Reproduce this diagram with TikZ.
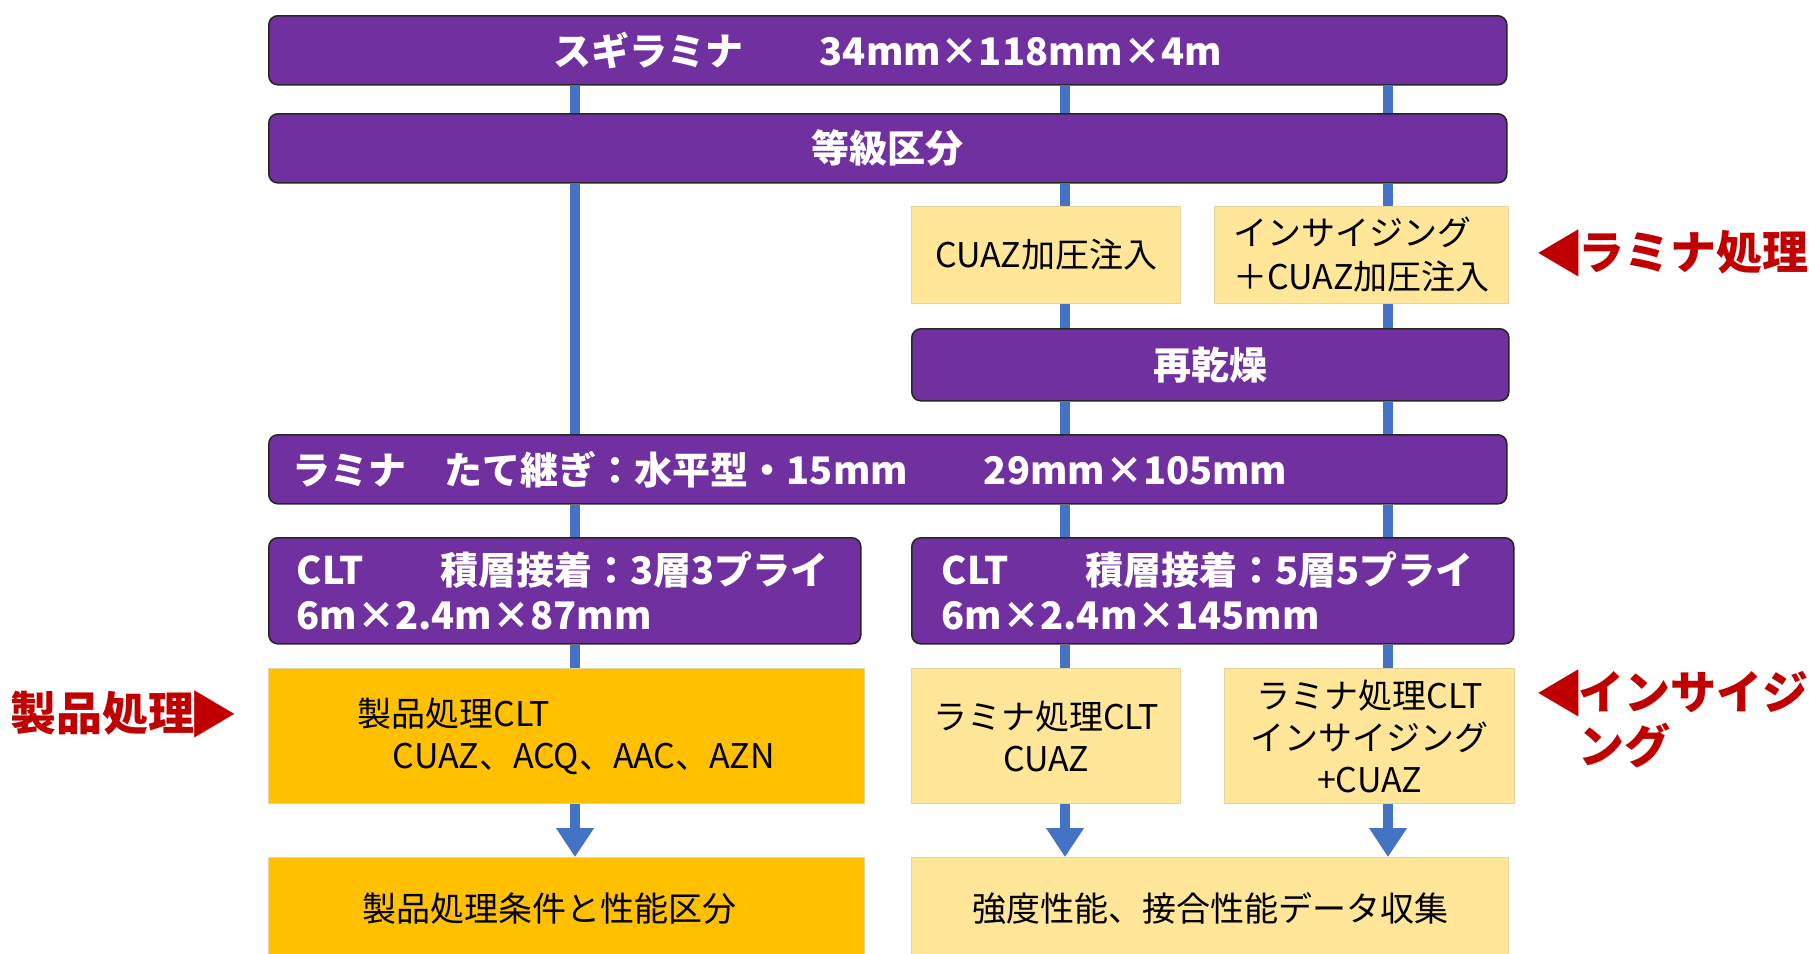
\documentclass[tikz,border=0pt]{standalone}
\usepackage{fontspec}
\usepackage{graphicx}
\setmainfont{Noto Sans CJK JP}
\newfontfamily\symfont{DejaVu Sans}
\usetikzlibrary{arrows.meta,backgrounds}
\definecolor{purp}{HTML}{7030A0}
\definecolor{lyel}{HTML}{FFE699}
\definecolor{oran}{HTML}{FFC000}
\definecolor{lblue}{HTML}{4472C4}
\definecolor{dred}{HTML}{C00000}
\definecolor{yedge}{HTML}{E3D3A0}
\newcommand{\tri}[1]{\scalebox{0.85}[1]{\symfont\fontsize{62}{54}\selectfont #1}}
\begin{document}
\begin{tikzpicture}[x=1pt,y=-1pt,
 pbox/.style={rectangle, rounded corners=9pt, fill=purp, draw=black!85, line width=1.6pt, text=white, inner sep=0pt, anchor=north west, font=\bfseries\fontsize{38}{45}\selectfont},
 ybox/.style={rectangle, fill=lyel, draw=yedge, line width=1pt, text=black, inner sep=0pt, anchor=north west, font=\fontsize{34}{42}\selectfont, align=center},
 obox/.style={ybox, fill=oran},
 flow/.style={draw=lblue, line width=10pt},
 flowarrow/.style={flow, -{Triangle[length=29pt,width=36pt]}},
 redlabel/.style={text=dred, font=\bfseries\fontsize{46}{54}\selectfont, inner sep=0pt, anchor=west, align=left},
]
\useasboundingbox (0,0) rectangle (1809,953);
\coordinate (cA) at (575,0);
\coordinate (cB) at (1065,0);
\coordinate (cC) at (1388,0);

\node[pbox, minimum width=1238pt, minimum height=69pt] (b1) at (268,15) {スギラミナ　　34mm×118mm×4m};
\node[pbox, minimum width=1238pt, minimum height=69pt] (b2) at (268,113) {等級区分};
\node[ybox, minimum width=269pt, minimum height=97pt] (t1) at (911,206) {CUAZ加圧注入};
\node[ybox, minimum width=294pt, minimum height=97pt, text width=256pt, align=left, font=\fontsize{34}{44}\selectfont] (t2) at (1214,206) {インサイジング\\＋CUAZ加圧注入};
\node[pbox, minimum width=597pt, minimum height=72pt] (dry) at (911,328) {再乾燥};
\node[pbox, minimum width=1238pt, minimum height=69pt, text width=1190pt, align=left] (lam) at (268,434) {ラミナ　たて継ぎ：水平型・15mm　　29mm×105mm};
\node[pbox, minimum width=592pt, minimum height=106pt, text width=536pt, align=left] (c3) at (268,537) {CLT　　積層接着：3層3プライ\\6m×2.4m×87mm};
\node[pbox, minimum width=602pt, minimum height=106pt, text width=542pt, align=left] (c5) at (911,537) {CLT　　積層接着：5層5プライ\\6m×2.4m×145mm};
\node[obox, minimum width=596pt, minimum height=135pt, align=left] (p1) at (268,668) {製品処理CLT\\\hspace*{35pt}CUAZ、ACQ、AAC、AZN};
\node[ybox, minimum width=269pt, minimum height=135pt] (t3) at (911,668) {ラミナ処理CLT\\CUAZ};
\node[ybox, minimum width=290pt, minimum height=135pt] (t4) at (1224,668) {ラミナ処理CLT\\インサイジング\\+CUAZ};
\node[obox, minimum width=596pt, minimum height=102pt, text width=560pt, align=left] (p2) at (268,857) {\hspace*{76pt}製品処理条件と性能区分};
\node[ybox, minimum width=597pt, minimum height=102pt] (t5) at (911,857) {強度性能、接合性能データ収集};

\node[redlabel] (lr) at (1538,253) {\tri{◀}ラミナ処理};
\node[redlabel] (li) at (1538,720) {\tri{◀}インサイジ\\\phantom{\tri{◀}}ング};
\node[redlabel] (lp) at (10,714) {製品処理\tri{▶}};

\begin{pgfonlayer}{background}
\foreach \a/\b in {b1/b2, b2/lam, lam/c3, c3/p1}
  \draw[flow] (\a.south -| cA) -- (\b.north -| cA);
\foreach \a/\b in {b1/b2, b2/t1, t1/dry, dry/lam, lam/c5, c5/t3}
  \draw[flow] (\a.south -| cB) -- (\b.north -| cB);
\foreach \a/\b in {b1/b2, b2/t2, t2/dry, dry/lam, lam/c5, c5/t4}
  \draw[flow] (\a.south -| cC) -- (\b.north -| cC);
\end{pgfonlayer}
\draw[flowarrow] (p1.south -| cA) -- (p2.north -| cA);
\draw[flowarrow] (t3.south -| cB) -- (t5.north -| cB);
\draw[flowarrow] (t4.south -| cC) -- (t5.north -| cC);
\end{tikzpicture}
\end{document}
